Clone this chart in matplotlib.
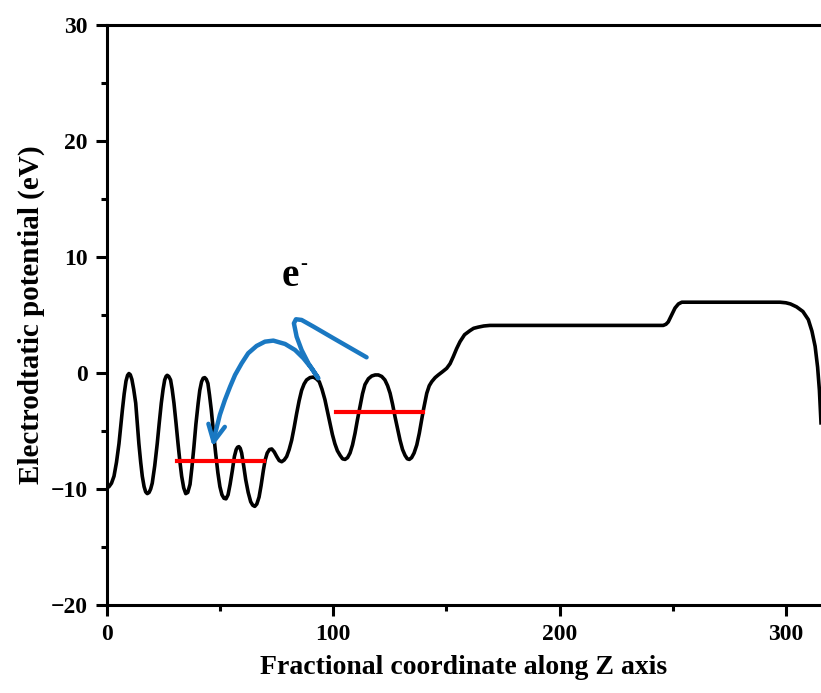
import matplotlib
matplotlib.use('Agg')
import matplotlib.pyplot as plt
from matplotlib.ticker import MultipleLocator

# potential profile
z = [0, 0.9, 2.0, 3.1, 4.2, 5.3, 6.8, 7.6, 8.4, 9.1, 9.7, 10.3, 11.0, 11.8, 12.7,
     13.4, 14.1, 14.9, 15.6, 16.4, 17.1, 17.8, 18.6, 19.3, 20.0, 21.1, 22.2, 23.1,
     24.0, 24.8, 25.5, 26.1, 26.6, 27.3, 28.1, 28.8, 29.6, 30.5, 31.4, 32.2, 33.0,
     33.9, 34.8, 35.7, 36.7, 37.5, 38.4, 39.3, 40.3, 41.0, 41.8, 42.5, 43.2, 43.9,
     44.6, 45.3, 46.1, 47.0, 48.0, 49.0, 49.9, 50.8, 51.7, 52.6, 53.5, 54.4, 55.4,
     56.3, 57.1, 57.7, 58.3, 58.9, 59.5, 60.4, 61.3, 62.4, 63.5, 64.4, 65.3, 66.2,
     67.2, 68.1, 69.1, 69.9, 70.8, 71.8, 72.8, 73.9, 75.0, 76.1, 77.2, 78.3, 79.4,
     80.5, 81.6, 82.7, 83.8, 84.9, 86.0, 87.1, 88.2, 89.7, 91.2, 92.5, 93.8, 95.0,
     96.3, 97.4, 98.5, 99.6, 100.7, 101.8, 103.0, 104.1, 105.2, 106.3, 107.4, 108.5,
     109.6, 110.7, 111.8, 112.9, 114.0, 115.5, 117.0, 118.5, 119.9, 121.4, 122.8,
     124.0, 125.1, 126.2, 127.3, 128.4, 129.5, 130.6, 131.7, 132.7, 133.6, 134.6,
     135.7, 136.9, 138.0, 138.9, 139.8, 140.6, 141.3, 142.4, 143.5, 145.0, 146.4,
     148.2, 150.1, 151.6, 153.0, 154.5, 156.0, 158.0, 160.4, 162.0, 164.0, 166.5,
     169.2, 245.8, 247.0, 248.0, 249.5, 251.0, 252.5, 254.0, 297.4, 300.0, 302.0,
     304.7, 307.5, 309.9, 311.5, 312.9, 314.0, 314.8, 315.5]
potential = [-9.9, -9.8, -9.5, -8.9, -7.7, -6.1, -3.2, -1.8, -0.7, -0.2, -0.05, -0.15,
             -0.55, -1.4, -2.6, -4.3, -6.1, -7.7, -8.9, -9.8, -10.25, -10.4, -10.3,
             -10.0, -9.5, -8.0, -6.1, -4.3, -2.6, -1.4, -0.6, -0.3, -0.2, -0.3, -0.6,
             -1.4, -2.6, -4.3, -6.1, -7.6, -8.9, -9.9, -10.4, -10.3, -9.6, -8.2, -6.4,
             -4.4, -2.6, -1.5, -0.75, -0.45, -0.4, -0.55, -0.9, -1.9, -3.2, -5.0, -6.9,
             -8.6, -9.8, -10.5, -10.8, -10.85, -10.5, -9.6, -8.4, -7.2, -6.6, -6.4,
             -6.35, -6.5, -6.9, -8.0, -9.2, -10.3, -11.1, -11.4, -11.5, -11.3, -10.7,
             -9.7, -8.4, -7.5, -6.9, -6.6, -6.55, -6.8, -7.2, -7.55, -7.65, -7.5, -7.2,
             -6.6, -5.8, -4.7, -3.5, -2.4, -1.5, -0.95, -0.6, -0.4, -0.35, -0.5, -0.75,
             -1.4, -2.3, -3.3, -4.3, -5.3, -6.1, -6.7, -7.1, -7.4, -7.45, -7.3, -6.9,
             -6.2, -5.2, -4.0, -2.9, -1.8, -1.0, -0.5, -0.26, -0.17, -0.17, -0.3, -0.6,
             -1.1, -1.75, -2.7, -3.8, -4.8, -5.8, -6.6, -7.1, -7.4, -7.45, -7.3, -6.9,
             -6.2, -5.2, -4.2, -3.2, -2.4, -1.75, -1.1, -0.75, -0.4, -0.17, 0.1, 0.4,
             0.8, 1.4, 2.1, 2.7, 3.3, 3.65, 3.85, 3.95, 4.05, 4.1, 4.1, 4.2, 4.4, 5.0,
             5.6, 5.95, 6.1, 6.1, 6.05, 5.95, 5.7, 5.3, 4.6, 3.6, 2.3, 0.5, -1.5, -4.3]

# red level markers: (z start, z end, energy)
level_z = [(31.1, 69.5), (101.0, 139.5)]
level_e = [-7.6, -3.33]

# hand-drawn electron arrow (annotation)
arrow_z = [114.7, 100.0, 91.2, 86.0, 83.5, 82.6, 83.8, 86.0, 89.0, 93.4, 90.4, 86.8,
           83.1, 78.7, 73.5, 69.8, 66.1, 62.4, 59.5, 56.6, 54.4, 52.1, 49.9, 47.7]
arrow_e = [1.35, 3.0, 4.0, 4.57, 4.63, 4.28, 3.13, 1.98, 0.83, -0.46, 0.4, 1.27,
           1.98, 2.5, 2.79, 2.7, 2.33, 1.7, 0.83, -0.17, -1.18, -2.33, -3.6, -5.3]
arrow_tip = (46.7, -6.35)

plt.rcParams['font.family'] = ['Liberation Serif', 'DejaVu Serif']
plt.rcParams['font.weight'] = 'bold'

fig = plt.figure(figsize=(8.21, 6.93), dpi=100)
ax = fig.add_axes([0.1303, 0.127, 0.8697, 0.837])

ax.plot(z, potential, color='black', lw=2.6, solid_joinstyle='round', zorder=3)
for (z0, z1), e in zip(level_z, level_e):
    ax.plot([z0, z1], [e, e], color='#ff0000', lw=3, zorder=4)

blue = '#1a78c2'
ax.plot(arrow_z, arrow_e, color=blue, lw=3.2, solid_joinstyle='round',
        solid_capstyle='round', zorder=5)
ax.annotate('', xy=arrow_tip, xytext=(arrow_z[-1], arrow_e[-1]),
            arrowprops=dict(arrowstyle='->,head_length=1.2,head_width=0.6',
                            color=blue, lw=3.2, shrinkA=0, shrinkB=0), zorder=5)

ax.text(80.9, 7.5, 'e', fontsize=28, fontweight='bold', ha='center', va='baseline')
ax.text(87.0, 9.4, '-', fontsize=15, fontweight='bold', ha='center', va='center')

ax.set_xlim(0, 315.5)
ax.set_ylim(-20, 30)
ax.xaxis.set_major_locator(MultipleLocator(100))
ax.xaxis.set_minor_locator(MultipleLocator(50))
ax.yaxis.set_major_locator(MultipleLocator(10))
ax.yaxis.set_minor_locator(MultipleLocator(5))

ax.spines['right'].set_visible(False)
for s in ['left', 'bottom', 'top']:
    ax.spines[s].set_linewidth(2.2)
ax.tick_params(which='major', direction='out', length=8, width=2.2,
               labelsize=17, top=False, right=False, pad=6)
ax.tick_params(which='minor', direction='out', length=4, width=2.2,
               top=False, right=False)
for lab in ax.get_xticklabels() + ax.get_yticklabels():
    lab.set_fontweight('bold')

ax.set_xlabel('Fractional coordinate along Z axis', fontsize=20,
              fontweight='bold', labelpad=7)
ax.set_ylabel('Electrodtatic potential (eV)', fontsize=21,
              fontweight='bold', labelpad=4)

fig.savefig('out.png', dpi=100)
